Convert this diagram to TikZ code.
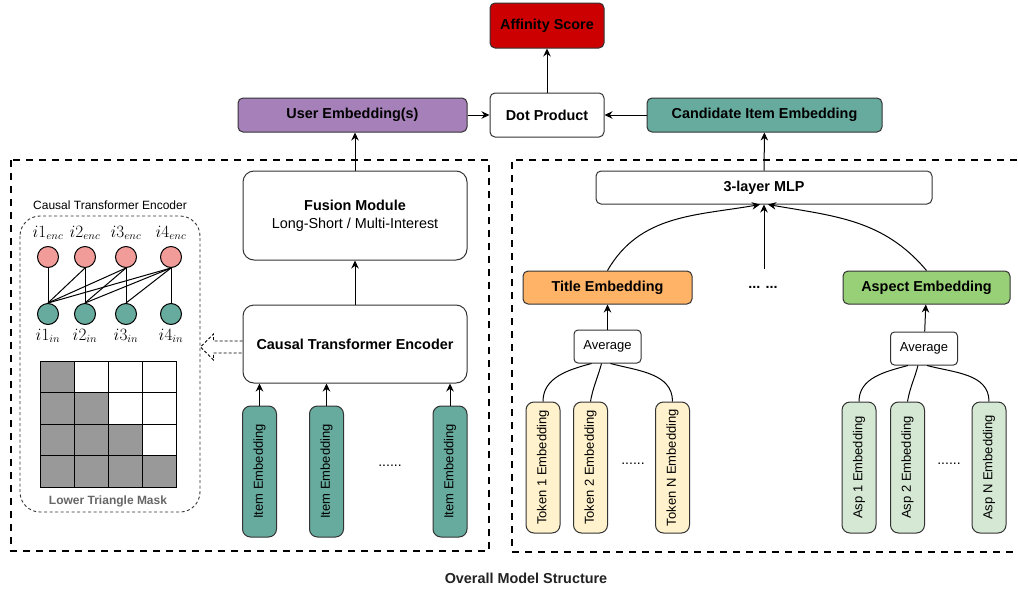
\documentclass[tikz,border=0pt]{standalone}
\usepackage[no-math]{fontspec}
\setmainfont{Liberation Sans}
\usepackage{amsmath}
\usepackage{graphicx}
\usepackage{xcolor}
\usetikzlibrary{arrows.meta, positioning, calc}
\definecolor{mred}{HTML}{CC0000}
\definecolor{mpurple}{HTML}{A680B8}
\definecolor{mteal}{HTML}{67AB9F}
\definecolor{morange}{HTML}{FFB366}
\definecolor{mgreen}{HTML}{97D077}
\definecolor{mpink}{HTML}{F19C99}
\definecolor{mcream}{HTML}{FFF2CC}
\definecolor{mmint}{HTML}{D5E8D4}
\definecolor{mmask}{HTML}{999999}
\definecolor{mline}{HTML}{333333}
\definecolor{mcap}{HTML}{222222}
\definecolor{mgraytext}{HTML}{666666}
\tikzset{
  hbox/.style={draw=mline, line width=1pt, rounded corners=5pt, inner sep=0pt,
               minimum height=34, font=\fontsize{14.4}{17}\selectfont\bfseries},
  bigbox/.style={draw=mline, line width=1pt, rounded corners=11pt, inner sep=0pt,
                 minimum width=224, align=center, font=\fontsize{14.4}{18}\selectfont},
  vbox/.style={draw=mline, line width=1pt, rounded corners=8pt, inner sep=0pt,
               minimum width=34, minimum height=131, font=\fontsize{13}{15}\selectfont},
  avgbox/.style={draw=mline, line width=1pt, rounded corners=4pt, inner sep=0pt,
                 fill=white, minimum width=67, minimum height=33, font=\fontsize{13}{15}\selectfont},
  encdot/.style={circle, draw=black, line width=1pt, fill=mpink, minimum size=21, inner sep=0pt},
  indot/.style={circle, draw=black, line width=1pt, fill=mteal, minimum size=21, inner sep=0pt},
  mathlbl/.style={inner sep=0pt, font=\fontsize{16}{19}\selectfont},
  arr/.style={-{Stealth[length=8pt,width=7.5pt]}, line width=1pt, black},
  link/.style={line width=1pt, black},
  panel/.style={line width=2.2pt, dash pattern=on 7pt off 6pt},
  subpanel/.style={draw=mline, line width=0.9pt, dash pattern=on 3pt off 2.5pt, rounded corners=20pt},
  hollowarr/.style={draw=black, line width=0.9pt, dash pattern=on 3pt off 2pt},
}

\begin{document}
\begin{tikzpicture}[x=1pt, y=1pt]
  \useasboundingbox (0,0) rectangle (1018,-592);

  % top row
  \node[hbox, fill=mred, minimum width=114, minimum height=45] (aff) at (547,-25.5) {Affinity Score};
  \node[hbox, fill=white, minimum width=114, minimum height=44] (dot) at (547,-115) {Dot Product};
  \node[hbox, fill=mpurple, minimum width=229] (user) at (352.5,-115) {User Embedding(s)};
  \node[hbox, fill=mteal, minimum width=235] (cand) at (764.5,-115) {Candidate Item Embedding};
  \draw[arr] (dot) -- (aff);
  \draw[arr] (user) -- (dot);
  \draw[arr] (cand) -- (dot);

  % user tower
  \draw[panel] (11,-160) rectangle (489,-551);
  \node[bigbox, minimum height=89] (fus) at (355,-215.5) {\textbf{Fusion Module}\\Long-Short / Multi-Interest};
  \node[bigbox, minimum height=78, font=\fontsize{14.4}{17}\selectfont\bfseries] (enc) at (355,-344) {Causal Transformer Encoder};
  \node[vbox, fill=mteal] (item1) at (259.5,-471.5) {\rotatebox{90}{Item Embedding}};
  \node[vbox, fill=mteal] (item2) at (326.5,-471.5) {\rotatebox{90}{Item Embedding}};
  \node[vbox, fill=mteal] (item3) at (450,-471.5) {\rotatebox{90}{Item Embedding}};
  \node[font=\fontsize{14}{16}\selectfont] (idots) at (390,-466) {......};
  \foreach \k in {1,2,3} \draw[arr] (item\k.north) -- (item\k.north |- enc.south);
  \draw[arr] (enc) -- (fus);
  \draw[arr] (fus.north) -- (fus.north |- user.south);

  % causal encoder detail
  \node[font=\fontsize{12}{14}\selectfont] (ctitle) at (110,-205) {Causal Transformer Encoder};
  \draw[subpanel] (20,-216) rectangle (200,-512);
  \foreach \k/\x in {1/48,2/85,3/126,4/171}{
    \node[encdot] (e\k) at (\x,-257) {};
    \node[indot] (n\k) at (\x,-314) {};
    \node[mathlbl] (le\k) at (\x,-233) {$i\k_{enc}$};
    \node[mathlbl] (ln\k) at (\x,-336) {$i\k_{in}$};
  }
  \foreach \j in {1,...,4}{\foreach \i in {1,...,\j}{\draw[link] (e\j.south) -- (n\i.north);}}
  \foreach \r in {0,...,3}{\foreach \c in {0,...,3}{
    \ifnum\c>\r \def\cellcol{white}\else\def\cellcol{mmask}\fi
    \draw[fill=\cellcol, line width=1pt] (40+34*\c,-361-31.5*\r) rectangle ++(34,-31.5);
  }}
  \node[font=\fontsize{12}{14}\selectfont\bfseries, text=mgraytext] (mask) at (108,-501) {Lower Triangle Mask};
  \draw[hollowarr] ($(enc.west)+(0,3)$) -- ++(-29,0) -- ++(0,7) -- ++(-13,-13) -- ++(13,-13) -- ++(0,7) -- ++(29,0);

  % item tower
  \draw[panel] (1030,-160) -- (512,-160) -- (512,-552) -- (1030,-552);
  \node[hbox, fill=white, minimum width=336, minimum height=33] (mlp) at (764,-187.5) {3-layer MLP};
  \draw[arr] (mlp) -- (cand);
  \node[hbox, fill=morange, minimum width=169, minimum height=33] (title) at (607.5,-287.5) {Title Embedding};
  \node[hbox, fill=mgreen, minimum width=167, minimum height=33] (aspect) at (926.5,-287.5) {Aspect Embedding};
  \node[font=\fontsize{14.4}{17}\selectfont\bfseries] (mdots) at (763,-287) {... ...};
  \coordinate (mtop) at (764,-269);
  \draw[arr] (title.north) to[out=60,in=190] ([xshift=-4]mlp.south);
  \draw[arr] (mtop) -- (mlp.south);
  \draw[arr] (aspect.north) to[out=130,in=-10] ([xshift=4]mlp.south);

  \node[avgbox] (avg1) at (607.5,-346.5) {Average};
  \node[avgbox] (avg2) at (924,-348.5) {Average};
  \draw[arr] (avg1) -- (title);
  \draw[arr] (avg2) -- (aspect);

  \node[vbox, fill=mcream] (tok1) at (543,-467.5) {\rotatebox{90}{Token 1 Embedding}};
  \node[vbox, fill=mcream] (tok2) at (590.5,-467.5) {\rotatebox{90}{Token 2 Embedding}};
  \node[vbox, fill=mcream] (tokn) at (672.5,-467.5) {\rotatebox{90}{Token N Embedding}};
  \node[font=\fontsize{14}{16}\selectfont] (tdots) at (633,-464) {......};
  \node[vbox, fill=mmint] (asp1) at (859,-467.5) {\rotatebox{90}{Asp 1 Embedding}};
  \node[vbox, fill=mmint] (asp2) at (907.5,-467.5) {\rotatebox{90}{Asp 2 Embedding}};
  \node[vbox, fill=mmint] (aspn) at (989,-467.5) {\rotatebox{90}{Asp N Embedding}};
  \node[font=\fontsize{14}{16}\selectfont] (adots) at (949,-464) {......};

  \draw[link] ([xshift=-16]avg1.south) to[out=195,in=90] (tok1.north);
  \draw[link] ([xshift=-6]avg1.south) to[out=-105,in=80] (tok2.north);
  \draw[link] ([xshift=3]avg1.south) to[out=-15,in=90] (tokn.north);
  \draw[link] ([xshift=-16]avg2.south) to[out=195,in=90] (asp1.north);
  \draw[link] ([xshift=-6]avg2.south) to[out=-105,in=80] (asp2.north);
  \draw[link] ([xshift=3]avg2.south) to[out=-15,in=90] (aspn.north);

  \node[font=\fontsize{14.4}{17}\selectfont\bfseries, text=mcap] (cap) at (526,-578) {Overall Model Structure};
\end{tikzpicture}
\end{document}
